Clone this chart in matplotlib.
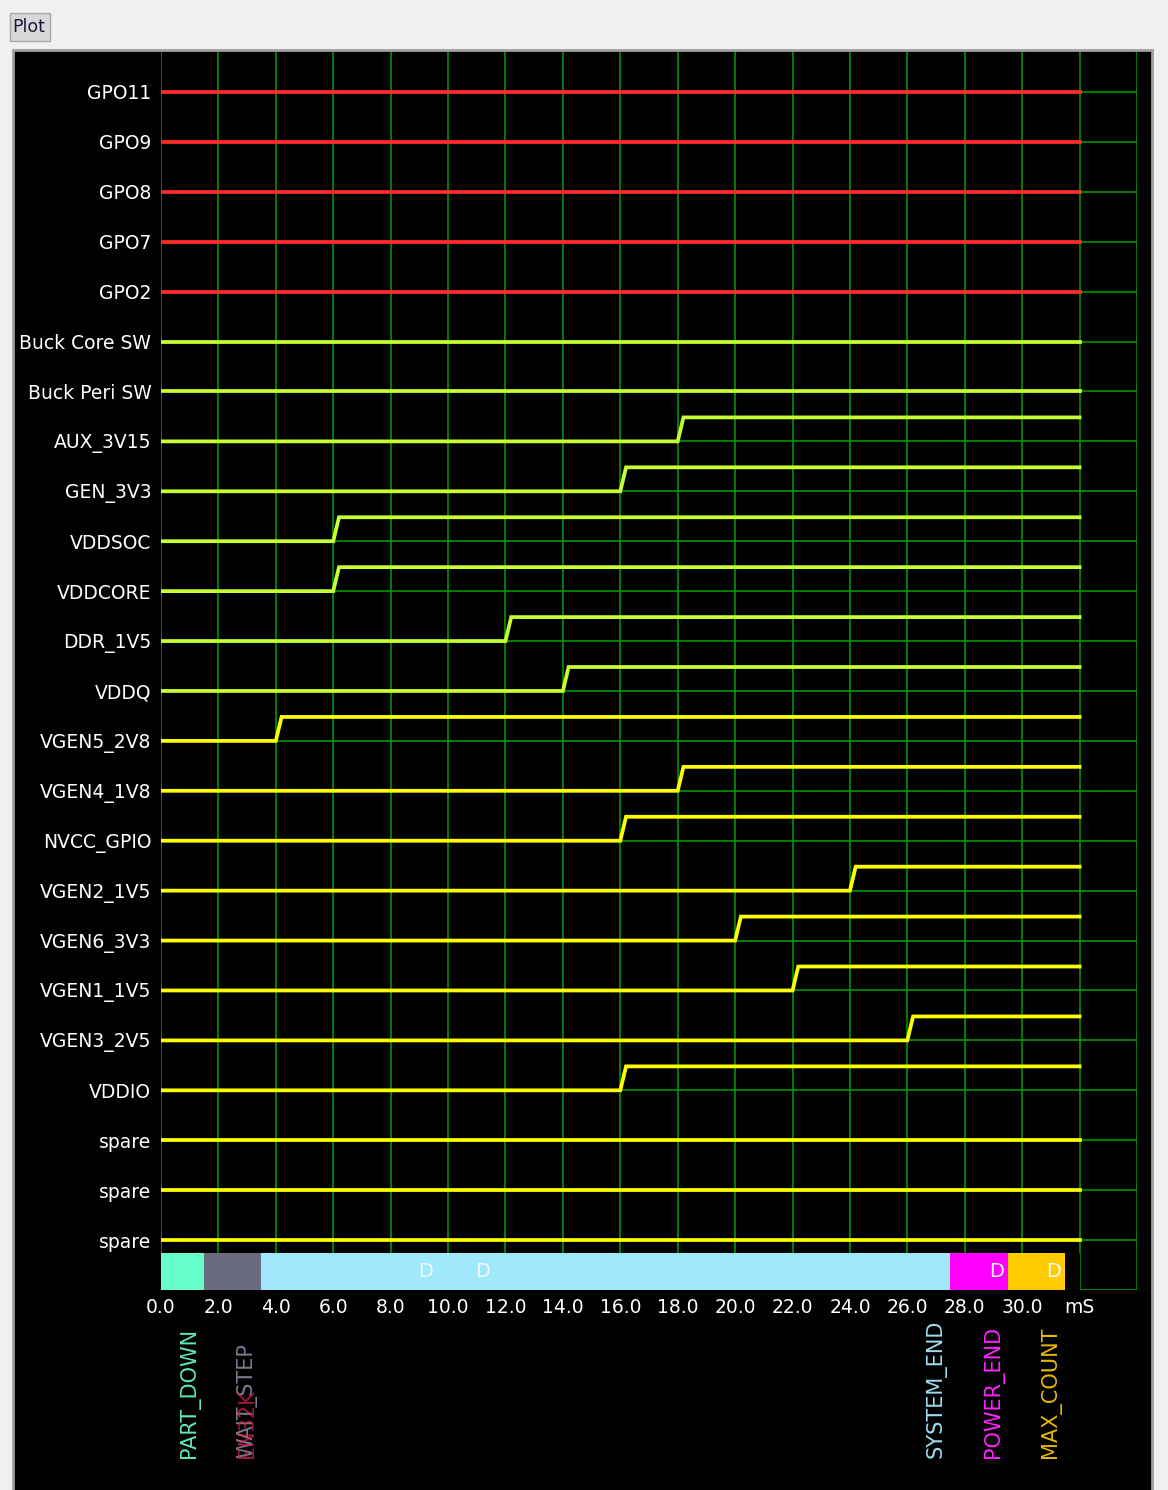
import matplotlib
matplotlib.use('Agg')
import matplotlib.pyplot as plt
from matplotlib.patches import Rectangle
import matplotlib.transforms as mtransforms

# signals, top to bottom
signals = ['GPO11', 'GPO9', 'GPO8', 'GPO7', 'GPO2', 'Buck Core SW', 'Buck Peri SW',
           'AUX_3V15', 'GEN_3V3', 'VDDSOC', 'VDDCORE', 'DDR_1V5', 'VDDQ',
           'VGEN5_2V8', 'VGEN4_1V8', 'NVCC_GPIO', 'VGEN2_1V5', 'VGEN6_3V3',
           'VGEN1_1V5', 'VGEN3_2V5', 'VDDIO', 'spare', 'spare', 'spare']
# turn-on time in ms (None = stays low)
on_time = [None, None, None, None, None, None, None,
           18.0, 16.0, 6.0, 6.0, 12.0, 14.0,
           4.0, 18.0, 16.0, 24.0, 20.0, 22.0, 26.0, 16.0,
           None, None, None]
sig_color = ['#ff2b2b'] * 5 + ['#c8ff32'] * 8 + ['#ffff00'] * 11

# sequencer phases (bottom bar)
phase_names = ['PART_DOWN', 'WAIT_STEP', 'SYSTEM_END', 'POWER_END', 'MAX_COUNT']
phase_start = [0.0, 1.5, 3.5, 27.5, 29.5]
phase_end = [1.5, 3.5, 27.5, 29.5, 31.5]
phase_color = ['#66ffcc', '#6b6b80', '#a0e8fc', '#ff00ff', '#ffcc00']
phase_text_color = ['#5fe8b8', '#7a7a90', '#9fdcf0', '#ff22ff', '#e8b800']
d_marks = [9.2, 11.2, 29.1, 31.1]

x_ticks = list(range(0, 33, 2))
x_labels = [f'{t:.1f}' for t in x_ticks[:-1]] + ['mS']

t_end = 32.0
rise = 0.2
step_h = 0.48

W, H = 1168, 1490
fig = plt.figure(figsize=(W / 100, H / 100), dpi=100, facecolor='#f0f0f0')

# window decoration
fig.patches.append(Rectangle((13 / W, -0.01), (1152 - 13) / W, 1.01 - 50 / H,
                             transform=fig.transFigure, facecolor='black',
                             edgecolor='#a0a0a0', lw=2, zorder=-2))
fig.patches.append(Rectangle((10 / W, 1 - 41 / H), 40 / W, 28 / H,
                             transform=fig.transFigure, facecolor='#d8d8d8',
                             edgecolor='#a8a8a8', lw=1, zorder=-2))
fig.text(12 / W, 1 - 27 / H, 'Plot', color='#1a1a40', fontsize=12.5, va='center')

ax = fig.add_axes([161 / W, 1 - 1290 / H, (1137 - 161) / W, (1290 - 52) / H])
ax.set_facecolor('black')
ax.set_xlim(0, 34)
ax.set_ylim(24.0, -0.8)
for s in ax.spines.values():
    s.set_visible(False)

grid_c = '#00a400'
for x in range(0, 35, 2):
    ax.axvline(x, color=grid_c, lw=1.1, zorder=1)
for r in range(len(signals) + 1):
    ax.axhline(r, color=grid_c, lw=1.1, zorder=1)

for r, (name, t, c) in enumerate(zip(signals, on_time, sig_color)):
    if t is None:
        xs, ys = [0, t_end], [r, r]
    else:
        xs = [0, t, t + rise, t_end]
        ys = [r, r, r - step_h, r - step_h]
    ax.plot(xs, ys, color=c, lw=2.7, zorder=3, solid_joinstyle='miter')

# bottom phase bar
ax.add_patch(Rectangle((0, 23.25), t_end, 0.78, facecolor='black', zorder=4))
for s, e, c in zip(phase_start, phase_end, phase_color):
    ax.add_patch(Rectangle((s, 23.25), e - s, 0.74, facecolor=c, zorder=5))
for d in d_marks:
    ax.text(d, 23.62, 'D', color='#f4faff', fontsize=14, ha='center', va='center', zorder=6)

ax.set_yticks(range(len(signals)))
ax.set_yticklabels(signals)
ax.set_xticks(x_ticks)
ax.set_xticklabels(x_labels)
ax.tick_params(axis='y', length=0, pad=7, labelsize=13.5, labelcolor='white')
ax.tick_params(axis='x', length=0, pad=6, labelsize=13.5, labelcolor='white')

trans = mtransforms.blended_transform_factory(ax.transData, fig.transFigure)
label_x = [e - 0.5 for e in phase_end]
for name, x, c in zip(phase_names, label_x, phase_text_color):
    ax.text(x, 1 - 1458 / H, name, rotation=90, color=c, fontsize=15,
            ha='center', va='bottom', transform=trans, clip_on=False)
ax.text(label_x[1], 1 - 1458 / H, 'EN32K', rotation=90, color='#e0205a', alpha=0.7,
        fontsize=15, ha='center', va='bottom', transform=trans, clip_on=False)

fig.savefig('out.png', dpi=100, facecolor=fig.get_facecolor())
